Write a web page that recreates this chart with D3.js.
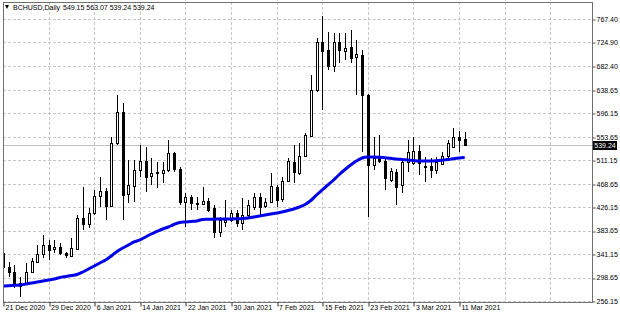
<!DOCTYPE html>
<html>
<head>
<meta charset="utf-8">
<script src="https://d3js.org/d3.v7.min.js"></script>
<style>
  body { margin: 0; background: #fff; }
  text { font-family: "Liberation Sans", Arial, sans-serif; }
</style>
</head>
<body>
<div id="chart"></div>
<script>
// daily candles, 21 Dec 2020 .. 12 Mar 2021
const firstDay = new Date(2020, 11, 21);
const lastDay = new Date(2021, 2, 12);

const opens = [343.19,318.35,309.28,283.36,286.99,309.28,327.41,341.37,357.69,349.89,
  354.61,343.19,338.29,350.44,407.18,395.22,415.7,447.07,456.13,428.39,
  542.06,599.35,449.6,465.19,493.66,510.52,482.78,490.58,488.76,493.66,
  523.93,495.47,435.1,444.16,434.37,432.02,438.0,424.22,381.8,399.93,
  403.01,416.25,397.03,412.08,427.12,444.16,428.39,436.19,463.38,440.54,
  474.26,508.7,487.67,519.58,555.3,638.69,726.25,711.2,682.2,726.25,
  709.94,717.19,699.06,702.14,629.62,502.72,514.87,509.97,476.07,490.58,
  466.46,508.16,505.8,528.65,501.45,500.91,494.2,504.53,519.04,535.9,
  554.03,549.15];
const highs = [379.44,327.41,321.43,300.22,325.06,333.22,357.69,375.82,366.75,366.75,
  361.32,345.54,370.38,412.08,463.38,424.77,457.4,481.51,461.02,554.03,
  629.62,615.12,511.79,511.79,538.98,535.9,515.41,508.7,508.7,548.04,
  526.83,499.64,451.42,448.33,445.25,463.38,442.35,430.21,408.99,439.27,
  421.14,421.14,442.9,439.27,451.96,452.5,442.35,488.76,466.46,481.51,
  514.87,538.98,542.06,560.19,665.88,732.42,772.84,744.38,742.57,741.48,
  742.57,747.46,729.33,711.2,632.0,554.03,557.11,514.87,496.74,495.47,
  514.87,548.04,554.03,538.98,517.22,515.41,517.22,526.83,548.04,569.25,
  564.9,563.07];
const lows = [306.93,300.22,279.73,263.96,285.17,306.93,325.06,334.12,330.5,343.19,
  339.56,334.12,336.48,348.62,384.88,388.51,412.08,427.12,403.01,426.58,
  538.98,403.01,433.83,436.19,481.51,454.32,466.46,461.02,469.55,490.58,
  490.58,430.21,390.87,421.14,421.14,430.21,418.06,369.84,372.74,390.87,
  399.93,390.87,384.88,406.09,421.14,412.08,424.22,433.29,427.12,436.19,
  472.45,469.55,484.59,517.77,554.03,635.61,602.43,674.95,671.86,687.09,
  693.08,687.09,629.62,526.83,408.99,493.66,505.8,457.4,472.45,430.21,
  451.42,490.58,502.72,484.59,472.45,479.15,486.41,502.72,514.87,533.0,
  526.83,539.24];
const closes = [317.81,309.28,285.17,288.8,309.28,328.68,341.37,357.69,348.62,354.61,
  343.73,339.56,352.25,406.64,395.22,415.7,446.52,456.13,428.39,542.61,
  599.35,448.33,466.46,493.66,510.52,481.51,488.76,487.67,493.66,523.93,
  494.92,436.19,444.16,433.29,432.02,438.0,421.14,381.8,403.01,403.01,
  415.16,397.03,412.08,430.21,444.16,427.12,436.19,464.65,439.27,474.26,
  510.52,490.58,519.58,557.11,638.69,726.25,709.94,682.2,726.25,711.2,
  715.37,696.16,703.41,629.62,502.72,514.87,510.52,478.61,490.94,462.84,
  508.16,526.29,528.65,505.44,500.0,493.66,507.62,519.04,542.06,554.03,
  548.04,539.24];
// moving average (blue line), one value per candle
const maValues = [283.36,283.9,284.63,285.17,286.99,288.8,290.61,292.43,294.24,296.05,
  298.77,300.58,302.4,304.21,308.74,314.18,319.62,325.06,330.5,337.75,
  345.91,352.25,357.69,363.13,366.75,372.19,377.63,382.16,386.7,390.32,
  394.85,398.48,399.39,400.29,401.2,403.92,404.28,404.46,404.82,404.82,
  404.82,405.19,405.73,406.64,408.45,410.26,412.08,413.89,415.7,417.52,
  420.23,422.95,426.58,431.11,438.36,448.33,457.4,466.46,475.53,485.5,
  494.56,502.72,509.97,515.41,517.22,517.22,516.68,515.77,514.87,513.6,
  512.69,511.79,510.88,509.97,509.97,509.97,510.34,511.24,512.69,514.15,
  515.41,516.32];

const priceTicks = [767.40,724.90,682.40,638.65,596.15,553.65,511.15,468.65,426.15,383.65,341.15,298.65,256.15];
const dateTicks = [new Date(2020,11,21), new Date(2020,11,29), new Date(2021,0,6), new Date(2021,0,14),
  new Date(2021,0,22), new Date(2021,0,30), new Date(2021,1,7), new Date(2021,1,15),
  new Date(2021,1,23), new Date(2021,2,3), new Date(2021,2,11)];
const gridExtra = [new Date(2021,2,19), new Date(2021,2,27)];
const lastPrice = 539.24;

const days = d3.timeDay.range(firstDay, d3.timeDay.offset(lastDay, 1));
const candles = days.map((d, i) => ({date: d, o: opens[i], h: highs[i], l: lows[i], c: closes[i], ma: maValues[i]}));

const width = 620, height = 318;
const plot = {left: 3, right: 592, top: 2, bottom: 302};

const svg = d3.select("#chart").append("svg")
  .attr("width", width)
  .attr("height", height);

const x = d3.scaleTime()
  .domain([new Date(2020,11,21), new Date(2021,2,11)])
  .range([3, 459]);
const y = d3.scaleLinear()
  .domain([256.15, 767.40])
  .range([301, 19]);

svg.append("clipPath").attr("id", "clip")
  .append("rect")
  .attr("x", plot.left + 1).attr("y", plot.top + 1)
  .attr("width", plot.right - plot.left - 1).attr("height", plot.bottom - plot.top - 1);

// grid
const grid = svg.append("g").attr("clip-path", "url(#clip)");
grid.selectAll(".hgrid")
  .data(priceTicks)
  .join("line")
    .attr("x1", plot.left).attr("x2", plot.right)
    .attr("y1", d => Math.round(y(d)) + 0.5)
    .attr("y2", d => Math.round(y(d)) + 0.5)
    .attr("stroke", "#c8c8c8")
    .attr("stroke-dasharray", "3,2");
grid.selectAll(".vgrid")
  .data(dateTicks.concat(gridExtra))
  .join("line")
    .attr("x1", d => Math.round(x(d)) + 0.5)
    .attr("x2", d => Math.round(x(d)) + 0.5)
    .attr("y1", plot.top).attr("y2", plot.bottom)
    .attr("stroke", "#c8c8c8")
    .attr("stroke-dasharray", "3,2");

// current price line
grid.append("line")
  .attr("x1", plot.left).attr("x2", plot.right)
  .attr("y1", Math.round(y(lastPrice)) + 0.5)
  .attr("y2", Math.round(y(lastPrice)) + 0.5)
  .attr("stroke", "#c0c0c0");

// candles
const cg = svg.append("g").attr("clip-path", "url(#clip)");
cg.selectAll(".wick")
  .data(candles)
  .join("line")
    .attr("x1", d => Math.round(x(d.date)) + 0.5)
    .attr("x2", d => Math.round(x(d.date)) + 0.5)
    .attr("y1", d => Math.round(y(d.h)))
    .attr("y2", d => Math.round(y(d.l)))
    .attr("stroke", "#000");
cg.selectAll(".body")
  .data(candles)
  .join("rect")
    .attr("x", d => Math.round(x(d.date)) - 0.5)
    .attr("width", 2)
    .attr("y", d => Math.round(y(Math.max(d.o, d.c))) + 0.5)
    .attr("height", d => Math.max(1, Math.round(y(Math.min(d.o, d.c))) - Math.round(y(Math.max(d.o, d.c)))))
    .attr("fill", d => d.c >= d.o ? "#fff" : "#000")
    .attr("stroke", "#000");

// moving average
const line = d3.line()
  .x(d => x(d.date))
  .y(d => y(d.ma))
  .curve(d3.curveMonotoneX);
cg.append("path")
  .datum(candles)
  .attr("d", line)
  .attr("fill", "none")
  .attr("stroke", "#0000e6")
  .attr("stroke-width", 3)
  .attr("stroke-linejoin", "round");

// frame
svg.append("rect")
  .attr("x", plot.left + 0.5).attr("y", plot.top + 0.5)
  .attr("width", plot.right - plot.left).attr("height", plot.bottom - plot.top)
  .attr("fill", "none")
  .attr("stroke", "#707070");

// price axis
const yAxis = svg.append("g")
  .attr("transform", `translate(${plot.right + 0.5},0)`)
  .call(d3.axisRight(y).tickValues(priceTicks).tickSize(3).tickPadding(1).tickFormat(d3.format(".2f")));
yAxis.select(".domain").remove();
yAxis.selectAll("line").attr("stroke", "#555").attr("transform", d => `translate(0,${Math.round(y(d)) + 0.5 - y(d)})`);
yAxis.selectAll("text").attr("font-size", 7).attr("fill", "#000").attr("font-family", "Liberation Sans, Arial, sans-serif");

// date axis
const xAxis = svg.append("g")
  .attr("transform", `translate(0,${plot.bottom + 0.5})`)
  .call(d3.axisBottom(x).tickValues(dateTicks).tickSize(4).tickFormat(d3.timeFormat("%-d %b %Y")));
xAxis.select(".domain").remove();
xAxis.selectAll("line").attr("stroke", "#333").attr("transform", d => `translate(${Math.round(x(d)) + 0.5 - x(d)},0)`);
xAxis.selectAll("text")
  .attr("font-size", 7)
  .attr("fill", "#000")
  .attr("font-family", "Liberation Sans, Arial, sans-serif")
  .attr("x", 2)
  .attr("y", 3)
  .style("text-anchor", "start");

// last price label
const ly = Math.round(y(lastPrice));
svg.append("rect")
  .attr("x", 593).attr("y", ly - 4)
  .attr("width", 24).attr("height", 9)
  .attr("fill", "#000");
svg.append("text")
  .attr("x", 605).attr("y", ly + 3)
  .attr("text-anchor", "middle")
  .attr("font-size", 7)
  .attr("fill", "#fff")
  .text(d3.format(".2f")(lastPrice));

// title
svg.append("path")
  .attr("d", "M5,5 L9,5 L7,9 Z")
  .attr("fill", "#000");
svg.append("text")
  .attr("x", 13).attr("y", 10)
  .attr("font-size", 7)
  .attr("fill", "#000")
  .text("BCHUSD,Daily");
const last = candles[candles.length - 1];
svg.append("text")
  .attr("x", 63).attr("y", 10)
  .attr("font-size", 7)
  .attr("fill", "#000")
  .text([last.o, last.h, last.l, last.c].map(d3.format(".2f")).join(" "));
</script>
</body>
</html>
